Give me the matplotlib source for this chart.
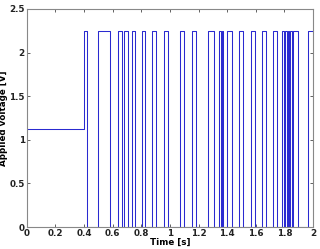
import numpy as np
import matplotlib
matplotlib.use("Agg")
import matplotlib.pyplot as plt

# niveis do sinal
v_inicial = 1.125
v_alto = 2.25
v_baixo = 0.0

# instantes de subida e descida dos pulsos (s)
subidas = [0.400, 0.495, 0.637, 0.681, 0.733, 0.803, 0.877, 0.960, 1.072, 1.152,
           1.267, 1.346, 1.362, 1.400, 1.482, 1.565, 1.641, 1.722, 1.786, 1.806,
           1.824, 1.840, 1.862, 1.966]
descidas = [0.418, 0.582, 0.664, 0.707, 0.758, 0.828, 0.902, 0.988, 1.100, 1.182,
            1.307, 1.356, 1.372, 1.431, 1.514, 1.598, 1.670, 1.752, 1.800, 1.818,
            1.835, 1.853, 1.892, 2.005]


def monta_sinal():
    t = [0.0]
    v = [v_inicial]
    nivel = v_inicial
    for s, d in zip(subidas, descidas):
        t += [s, s, d, d]
        v += [nivel, v_alto, v_alto, v_baixo]
        nivel = v_baixo
    return np.array(t), np.array(v)


t, v = monta_sinal()

fig = plt.figure(figsize=(3.2, 2.49), dpi=100)
ax = fig.add_axes([0.084, 0.088, 0.894, 0.876])
ax.plot(t, v, color="#2a2ad0", lw=0.75)

ax.set_xlim(0, 2)
ax.set_ylim(0, 2.5)
ax.set_xticks(np.arange(0, 2.01, 0.2))
ax.set_xticklabels(["0", "0.2", "0.4", "0.6", "0.8", "1", "1.2", "1.4", "1.6", "1.8", "2"])
ax.set_yticks([0, 0.5, 1, 1.5, 2, 2.5])
ax.set_yticklabels(["0", "0.5", "1", "1.5", "2", "2.5"])
ax.tick_params(direction="in", length=2.5, width=0.5, top=True, right=True,
               labelsize=6.3, pad=1.5, colors="#222222")
for lab in ax.get_xticklabels() + ax.get_yticklabels():
    lab.set_fontweight("bold")
for sp in ax.spines.values():
    sp.set_color("#888888")
    sp.set_linewidth(0.8)

ax.set_xlabel("Time [s]", fontsize=6.3, fontweight="bold", labelpad=0)
ax.set_ylabel("Applied voltage [V]", fontsize=6.3, fontweight="bold", labelpad=1)

fig.savefig("out.png", dpi=100)
